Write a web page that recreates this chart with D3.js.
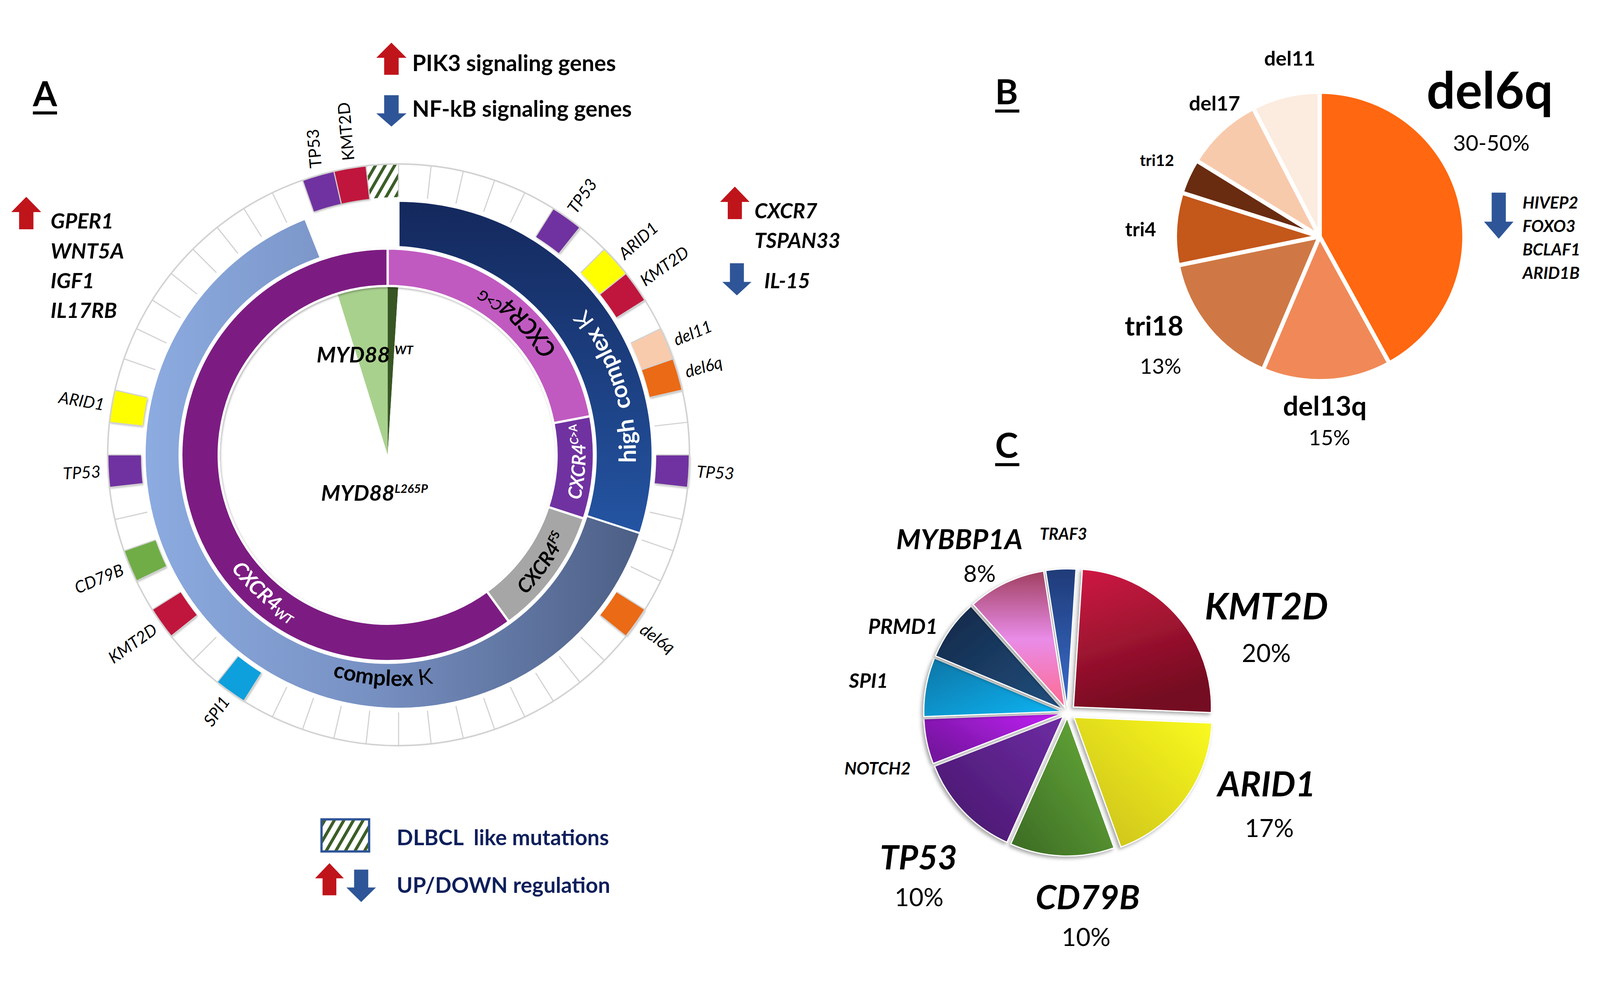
<!DOCTYPE html>
<html lang="en">
<head>
<meta charset="UTF-8">
<title>WM landscape</title>
<script src="https://cdnjs.cloudflare.com/ajax/libs/d3/7.8.5/d3.min.js"></script>
<style>
  html, body { margin: 0; padding: 0; background: #fff; overflow: hidden; }
  svg { display: block; width: 100vw; height: 100vh; font-family: Lato, "Open Sans", sans-serif; }
</style>
</head>
<body>
<div id="chart"></div>
<script>
// ---------- data ----------
// A: MYD88 status (centre pie)
var myd88Labels = ["other", "L265P", "WT"];
var myd88Values = [1, 94.2, 4.8];
// A: CXCR4 ring
var cxcr4Labels = ["C>G", "C>A", "FS", "WT"];
var cxcr4Values = [22, 8, 10, 60];
// A: karyotype ring
var karyoLabels = ["high complex K", "complex K", "not complex"];
var karyoValues = [30, 64, 6];
// A: patient ring (one cell per patient), cells carrying an event
var patientCount = 56;
var eventCell = [5, 7, 8, 10, 11, 14, 19, 33, 36, 38, 41, 43, 53, 54, 55];
var eventGene = ["TP53", "ARID1", "KMT2D", "del11", "del6q", "TP53", "del6q", "SPI1", "KMT2D", "CD79B", "TP53", "ARID1", "TP53", "KMT2D", "DLBCL"];
// regulated genes
var upLeftGenes = ["GPER1", "WNT5A", "IGF1", "IL17RB"];
var upRightGenes = ["CXCR7", "TSPAN33"];
var downRightGenes = ["IL-15"];
var del6qDownGenes = ["HIVEP2", "FOXO3", "BCLAF1", "ARID1B"];

// B: copy number abnormalities
var cnaLabels = ["del6q", "del13q", "tri18", "tri4", "tri12", "del17", "del11"];
var cnaValues = [42, 14.4, 15.4, 8.1, 3.9, 8.6, 7.6];
var cnaPercent = ["30-50%", "15%", "13%", "", "", "", ""];

// C: mutations
var mutLabels = ["TRAF3", "KMT2D", "ARID1", "CD79B", "TP53", "NOTCH2", "SPI1", "PRMD1", "MYBBP1A"];
var mutValues = [3.5, 24.6, 18.8, 12.2, 12.4, 5.3, 6.9, 7.1, 9.1];
var mutPercent = ["", "20%", "17%", "10%", "10%", "", "", "", "8%"];

// ---------- styles / layout ----------
var W = 4235, H = 2568;
var Ci = [1026, 1204], Co = [1055, 1204];
var geneColor = {TP53: "#7030a0", ARID1: "#ffff00", KMT2D: "#c0143c", del11: "#f8cbad",
                 del6q: "#ea6a14", SPI1: "#10a0dc", CD79B: "#70ad47", DLBCL: "url(#hatch)"};
var cxcr4Color = {"C>G": "#c05ac0", "C>A": "#7030a0", "FS": "#a6a6a6", "WT": "#7b1c82"};
var myd88Color = {other: "#375623", L265P: "#ffffff", WT: "#a9d18e"};
var cnaColor = ["#ff6710", "#f08957", "#cf7845", "#c4571a", "#692c10", "#f8caac", "#fcebdf"];
var red = "#c0141b", blue = "#2e5597";

var svg = d3.select("#chart").append("svg")
  .attr("viewBox", "0 0 " + W + " " + H)
  .attr("preserveAspectRatio", "xMinYMin meet");
svg.append("rect").attr("width", W).attr("height", H).attr("fill", "#fff");
var defs = svg.append("defs");

// hatch pattern
var hatch = defs.append("pattern").attr("id", "hatch").attr("patternUnits", "userSpaceOnUse")
  .attr("width", 22).attr("height", 22).attr("patternTransform", "rotate(30)");
hatch.append("rect").attr("width", 22).attr("height", 22).attr("fill", "#fff");
hatch.append("rect").attr("width", 8).attr("height", 22).attr("fill", "#3b5e27");

// shadows
var sh = defs.append("filter").attr("id", "shadow").attr("x", "-20%").attr("y", "-20%").attr("width", "140%").attr("height", "140%");
sh.append("feDropShadow").attr("dx", -5).attr("dy", 5).attr("stdDeviation", 5).attr("flood-color", "#000").attr("flood-opacity", 0.35);
var sh2 = defs.append("filter").attr("id", "soft").attr("x", "-20%").attr("y", "-20%").attr("width", "140%").attr("height", "140%");
sh2.append("feDropShadow").attr("dx", 2).attr("dy", 3).attr("stdDeviation", 3).attr("flood-color", "#000").attr("flood-opacity", 0.3);

// ring gradients
var hc = defs.append("linearGradient").attr("id", "hcGrad").attr("gradientUnits", "userSpaceOnUse")
  .attr("x1", 0).attr("y1", 530).attr("x2", 0).attr("y2", 1420);
hc.append("stop").attr("offset", 0).attr("stop-color", "#14285c");
hc.append("stop").attr("offset", 1).attr("stop-color", "#2455a3");
var ck = defs.append("linearGradient").attr("id", "ckGrad").attr("gradientUnits", "userSpaceOnUse")
  .attr("x1", 390).attr("y1", 0).attr("x2", 1725).attr("y2", 0);
ck.append("stop").attr("offset", 0).attr("stop-color", "#8cabe0");
ck.append("stop").attr("offset", 0.45).attr("stop-color", "#7790c2");
ck.append("stop").attr("offset", 1).attr("stop-color", "#4a5c82");

function unit(a) { return [Math.sin(a), -Math.cos(a)]; }

// ---------- panel A ----------
var gA = svg.append("g");

// centre pie
var myd88Pie = d3.pie().sort(null)(myd88Values);
var pieArc = d3.arc().innerRadius(0).outerRadius(447);
gA.append("g").attr("transform", "translate(" + Ci + ")")
  .selectAll("path").data(myd88Pie).join("path")
  .attr("d", pieArc).attr("fill", function(d, i) { return myd88Color[myd88Labels[i]]; });

// CXCR4 ring
var cxArc = d3.arc().innerRadius(447).outerRadius(546);
gA.append("g").attr("transform", "translate(" + Ci + ")").attr("filter", "url(#soft)")
  .selectAll("path").data(d3.pie().sort(null)(cxcr4Values)).join("path")
  .attr("d", cxArc).attr("fill", function(d, i) { return cxcr4Color[cxcr4Labels[i]]; })
  .attr("stroke", "#fff").attr("stroke-width", 6);

// karyotype ring: outer edge centred on Co, inner edge follows the CXCR4 ring (Ci)
var kOuter = 672, kInner = 551;
function innerFromCo(a) {
  var u = unit(a), dx = Co[0] - Ci[0], dy = Co[1] - Ci[1];
  var b = dx * u[0] + dy * u[1];
  return -b + Math.sqrt(b * b - (dx * dx + dy * dy) + kInner * kInner);
}
function bandPath(a0, a1) {
  var steps = d3.range(121).map(function(i) { return a0 + (a1 - a0) * i / 120; });
  var outer = steps.map(function(a) { var u = unit(a); return [Co[0] + kOuter * u[0], Co[1] + kOuter * u[1]]; });
  var inner = steps.slice().reverse().map(function(a) { var u = unit(a), t = innerFromCo(a); return [Co[0] + t * u[0], Co[1] + t * u[1]]; });
  return d3.line()(outer.concat(inner)) + "Z";
}
var karyoFill = ["url(#hcGrad)", "url(#ckGrad)", "none"];
gA.append("g").selectAll("path").data(d3.pie().sort(null)(karyoValues)).join("path")
  .attr("d", function(d) { return bandPath(d.startAngle, d.endAngle); })
  .attr("fill", function(d, i) { return karyoFill[i]; })
  .attr("stroke", function(d, i) { return i < 2 ? "#fff" : "none"; }).attr("stroke-width", 5);

// patient ring
var cellAngle = d3.scaleLinear().domain([0, patientCount]).range([0, 2 * Math.PI]);
var cellIn = 682, cellOut = 770;
var cellArc = d3.arc().innerRadius(cellIn).outerRadius(cellOut);
var gCells = gA.append("g").attr("transform", "translate(" + Co + ")");
var events = eventCell.map(function(c, i) { return {cell: c, gene: eventGene[i]}; });
gCells.selectAll("path.ev").data(events).join("path").attr("class", "ev")
  .attr("d", function(d) { return cellArc({startAngle: cellAngle(d.cell), endAngle: cellAngle(d.cell + 1)}); })
  .attr("fill", function(d) { return geneColor[d.gene]; })
  .attr("filter", function(d) { return d.gene === "DLBCL" ? null : "url(#soft)"; });
gCells.selectAll("line").data(d3.range(patientCount)).join("line")
  .attr("x1", function(i) { return cellIn * unit(cellAngle(i))[0]; })
  .attr("y1", function(i) { return cellIn * unit(cellAngle(i))[1]; })
  .attr("x2", function(i) { return cellOut * unit(cellAngle(i))[0]; })
  .attr("y2", function(i) { return cellOut * unit(cellAngle(i))[1]; })
  .attr("stroke", "#d2d2d2").attr("stroke-width", 3);
gCells.append("circle").attr("r", cellOut).attr("fill", "none").attr("stroke", "#d2d2d2").attr("stroke-width", 4);

// event labels
gCells.selectAll("text").data(events.filter(function(d) { return d.gene !== "DLBCL"; })).join("text")
  .each(function(d) {
    var a = cellAngle(d.cell + 0.5), deg = a * 180 / Math.PI;
    var left = deg > 180 && deg < 300, top = deg > 300;
    var u = unit(a), r = 790;
    var rot = left ? deg - 270 : (top ? -95 : deg - 90);
    d3.select(this)
      .attr("transform", "translate(" + (r * u[0]) + "," + (r * u[1]) + ") rotate(" + rot + ")")
      .attr("text-anchor", left ? "end" : "start")
      .attr("dy", "0.35em")
      .attr("font-size", 44)
      .attr("font-style", top ? "normal" : "italic")
      .text(d.gene);
  });

// curved ring labels
function ccwArc(id, c, r, midDeg, halfDeg) {
  var a1 = (midDeg + halfDeg) * Math.PI / 180, a0 = (midDeg - halfDeg) * Math.PI / 180;
  var p1 = [c[0] + r * Math.sin(a1), c[1] - r * Math.cos(a1)];
  var p0 = [c[0] + r * Math.sin(a0), c[1] - r * Math.cos(a0)];
  defs.append("path").attr("id", id).attr("d", "M" + p1 + " A" + r + "," + r + " 0 0 0 " + p0);
}
function ringText(id, parts, size, fill, weight, style) {
  var t = gA.append("text").attr("font-size", size).attr("fill", fill)
    .attr("font-weight", weight).attr("font-style", style).style("white-space", "pre");
  var tp = t.append("textPath").attr("href", "#" + id).attr("startOffset", "50%").attr("text-anchor", "middle");
  parts.forEach(function(p) {
    var s = tp.append("tspan").text(p.t);
    if (p.size) s.attr("font-size", p.size);
    if (p.dy) s.attr("dy", p.dy);
    if (p.w) s.attr("font-weight", p.w);
  });
}
ccwArc("arcHigh", Co, 628, 72, 80);
ringText("arcHigh", [{t: "high  complex "}, {t: "K", w: "normal"}], 62, "#fff", "bold", "normal");
ccwArc("arcCK", Co, 612, 184, 60);
ringText("arcCK", [{t: "complex "}, {t: "K", w: "normal"}], 58, "#000", "bold", "normal");
ccwArc("arcCG", Ci, 526, 44, 60);
ringText("arcCG", [{t: "CXCR4"}, {t: "C>G", size: 38, dy: -22}], 64, "#000", "600", "italic");
ccwArc("arcCA", Ci, 524, 92, 60);
ringText("arcCA", [{t: "CXCR4"}, {t: "C>A", size: 30, dy: -18}], 50, "#fff", "bold", "italic");
ccwArc("arcFS", Ci, 520, 125, 60);
ringText("arcFS", [{t: "CXCR4"}, {t: "FS", size: 32, dy: -18}], 52, "#000", "bold", "italic");
ccwArc("arcWT", Ci, 512, 222, 60);
ringText("arcWT", [{t: "CXCR4"}, {t: "WT", size: 34, dy: 8}], 54, "#fff", "bold", "italic");

// MYD88 labels
var m1 = gA.append("text").attr("x", 838).attr("y", 960).attr("font-size", 58).attr("font-weight", "bold").attr("font-style", "italic");
m1.append("tspan").text("MYD88");
m1.append("tspan").text("WT").attr("font-size", 32).attr("dx", 12).attr("dy", -22);
var m2 = gA.append("text").attr("x", 850).attr("y", 1325).attr("font-size", 58).attr("font-weight", "bold").attr("font-style", "italic");
m2.append("tspan").text("MYD88");
m2.append("tspan").text("L265P").attr("font-size", 32).attr("dy", -20);

// arrows
function blockArrow(x, y, w, h, dir, headFrac, color) {
  var sw = w * 0.48, hh = h * headFrac, cx = x + w / 2, p = d3.path();
  if (dir === "up") {
    p.moveTo(cx, y); p.lineTo(x + w, y + hh); p.lineTo(cx + sw / 2, y + hh); p.lineTo(cx + sw / 2, y + h);
    p.lineTo(cx - sw / 2, y + h); p.lineTo(cx - sw / 2, y + hh); p.lineTo(x, y + hh);
  } else {
    p.moveTo(cx, y + h); p.lineTo(x + w, y + h - hh); p.lineTo(cx + sw / 2, y + h - hh); p.lineTo(cx + sw / 2, y);
    p.lineTo(cx - sw / 2, y); p.lineTo(cx - sw / 2, y + h - hh); p.lineTo(x, y + h - hh);
  }
  p.closePath();
  svg.append("path").attr("d", p.toString()).attr("fill", color);
}
function label(x, y, txt, size, weight, style, fill) {
  return svg.append("text").attr("x", x).attr("y", y).attr("font-size", size)
    .attr("font-weight", weight || "normal").attr("font-style", style || "normal")
    .attr("fill", fill || "#000").style("white-space", "pre").text(txt);
}
function panelLetter(x, y, txt) {
  label(x, y, txt, 92, "bold");
  svg.append("rect").attr("x", x).attr("y", y + 14).attr("width", 64).attr("height", 8).attr("fill", "#000");
}

panelLetter(87, 281, "A");
panelLetter(2634, 276, "B");
panelLetter(2634, 1212, "C");

blockArrow(996, 113, 80, 85, "up", 0.47, red);
label(1091, 188, "PIK3 signaling genes", 59, "bold");
blockArrow(996, 252, 80, 83, "down", 0.42, blue);
label(1091, 309, "NF-kB signaling genes", 59, "bold");

blockArrow(30, 521, 79, 86, "up", 0.47, red);
upLeftGenes.forEach(function(g, i) { label(134, 605 + i * 79, g, 56, "bold", "italic"); });
blockArrow(1906, 494, 78, 86, "up", 0.47, red);
upRightGenes.forEach(function(g, i) { label(1997, 578 + i * 79, g, 55, "bold", "italic"); });
blockArrow(1912, 697, 77, 85, "down", 0.42, blue);
downRightGenes.forEach(function(g, i) { label(2023, 763 + i * 79, g, 55, "bold", "italic"); });

// legend
svg.append("rect").attr("x", 851).attr("y", 2169).attr("width", 126).attr("height", 85)
  .attr("fill", "url(#hatch)").attr("stroke", "#2f5597").attr("stroke-width", 6);
label(1050, 2237, "DLBCL  like mutations", 57, "bold", "normal", "#0e1f5b");
blockArrow(834, 2285, 76, 85, "up", 0.47, red);
blockArrow(917, 2302, 78, 86, "down", 0.45, blue);
label(1050, 2364, "UP/DOWN regulation", 57, "bold", "normal", "#0e1f5b");

// ---------- panel B ----------
var cB = [3493, 626], rB = 383;
var arcB = d3.arc().innerRadius(0).outerRadius(rB);
svg.append("g").attr("transform", "translate(" + cB + ")")
  .selectAll("path").data(d3.pie().sort(null)(cnaValues)).join("path")
  .attr("d", arcB).attr("fill", function(d, i) { return cnaColor[i]; })
  .attr("stroke", "#fff").attr("stroke-width", 11).attr("stroke-linejoin", "round");

var cnaLabelPos = {del6q: [3776, 287, 134], del13q: [3396, 1100, 72], tri18: [2977, 888, 72],
                   tri4: [2978, 626, 52], tri12: [3017, 439, 42], del17: [3147, 293, 54], del11: [3346, 174, 54]};
var cnaPctPos = {del6q: [3846, 399, 58], del13q: [3464, 1179, 56], tri18: [3017, 989, 56]};
cnaLabels.forEach(function(n, i) {
  var p = cnaLabelPos[n];
  label(p[0], p[1], n, p[2], "bold");
  if (cnaPercent[i]) { var q = cnaPctPos[n]; label(q[0], q[1], cnaPercent[i], q[2]); }
});
blockArrow(3928, 510, 78, 122, "down", 0.37, blue);
del6qDownGenes.forEach(function(g, i) { label(4030, 552 + i * 62, g, 44, "bold", "italic"); });

// ---------- panel C ----------
var cC = [2825, 1886], rC = 365;
var gradSpec = [
  {x1: 0, y1: 0, x2: 0, y2: 1, stops: ["#1f3b78", "#3a6dcc"]},
  {x1: 0, y1: 0, x2: 0.3, y2: 1, stops: ["#d01a44", "#740c20"]},
  {x1: 1, y1: 0, x2: 0, y2: 1, stops: ["#fbfb20", "#c8bd1c"]},
  {x1: 1, y1: 0, x2: 0, y2: 1, stops: ["#68ae3a", "#3b6a24"]},
  {x1: 1, y1: 0, x2: 0, y2: 1, stops: ["#6e2ca3", "#45166a"]},
  {x1: 1, y1: 0, x2: 0, y2: 0.6, stops: ["#c320f8", "#7616a0"]},
  {x1: 1, y1: 1, x2: 0, y2: 0, stops: ["#10b6f6", "#0b74a4"]},
  {x1: 1, y1: 1, x2: 0, y2: 0, stops: ["#22507e", "#122646"]},
  {x1: 0, y1: 0, x2: 0, y2: 1, stops: ["#a04060", "#e98ce8", "#ff6a90"]}
];
gradSpec.forEach(function(s, i) {
  var g = defs.append("linearGradient").attr("id", "mg" + i)
    .attr("x1", s.x1).attr("y1", s.y1).attr("x2", s.x2).attr("y2", s.y2);
  s.stops.forEach(function(c, j) {
    g.append("stop").attr("offset", j / (s.stops.length - 1)).attr("stop-color", c);
  });
});
var startC = -8.9 * Math.PI / 180;
var pieC = d3.pie().sort(null).startAngle(startC).endAngle(startC + 2 * Math.PI)(mutValues);
var arcC = d3.arc().innerRadius(0).outerRadius(rC);
svg.append("g").attr("transform", "translate(" + cC + ")")
  .selectAll("path").data(pieC).join("path")
  .attr("transform", function(d, i) {
    var m = (d.startAngle + d.endAngle) / 2, o = (i === 1 || i === 2) ? 22 : 15;
    return "translate(" + (o * Math.sin(m)) + "," + (-o * Math.cos(m)) + ")";
  })
  .attr("d", arcC).attr("fill", function(d, i) { return "url(#mg" + i + ")"; })
  .attr("stroke", "#fff").attr("stroke-width", 3).attr("filter", "url(#shadow)");

var mutLabelPos = {TRAF3: [2752, 1429, 43], KMT2D: [3189, 1640, 97], ARID1: [3223, 2108, 92],
                   CD79B: [2741, 2407, 89], TP53: [2329, 2302, 89], NOTCH2: [2235, 2050, 45],
                   SPI1: [2247, 1821, 53], PRMD1: [2298, 1678, 55], MYBBP1A: [2372, 1454, 74]};
var mutPctPos = {KMT2D: [3287, 1753, 66], ARID1: [3295, 2216, 66], CD79B: [2810, 2504, 66],
                 TP53: [2368, 2399, 66], MYBBP1A: [2550, 1541, 62]};
mutLabels.forEach(function(n, i) {
  var p = mutLabelPos[n];
  label(p[0], p[1], n, p[2], "bold", "italic");
  if (mutPercent[i]) { var q = mutPctPos[n]; label(q[0], q[1], mutPercent[i], q[2]); }
});
</script>
</body>
</html>
